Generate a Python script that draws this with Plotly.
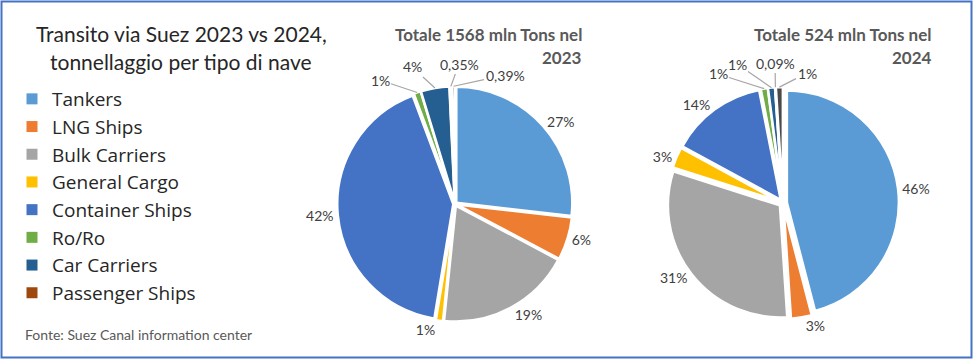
import math
import plotly.graph_objects as go

# ---- data ----
categories = ["Tankers", "LNG Ships", "Bulk Carriers", "General Cargo",
              "Container Ships", "Ro/Ro", "Car Carriers", "Passenger Ships", "Altro"]
legend_categories = categories[:8]
share_2023 = [27, 6, 19, 1, 42, 1, 4, 0.35, 0.39]
share_2024 = [46, 3, 31, 3, 14, 1, 1, 0.09, 1]
colors = ["#5B9BD5", "#ED7D31", "#A5A5A5", "#FFC000", "#4472C4",
          "#70AD47", "#255E91", "#9E480E", "#4A4A4A"]

title_lines = ["Transito via Suez 2023 vs 2024,", "tonnellaggio per tipo di nave"]
sub_2023 = ["Totale 1568 mln Tons nel", "2023"]
sub_2024 = ["Totale 524 mln Tons nel", "2024"]
source = "Fonte: Suez Canal information center"

# ---- layout constants (pixels) ----
W, H = 974, 360
FONT = "Lato"
TXT = "#404040"
SMALL_IDX = [5, 6, 7, 8]          # slices labelled with leader lines at the top
PIES = [
    dict(values=share_2023, cx=455, cy=204, r=116, pull=0.015,
         label_pos=[(380, 80), (412, 67), (459, 64), (505, 75)]),
    dict(values=share_2024, cx=783, cy=203, r=112, pull=0.035,
         label_pos=[(718, 74), (737, 64), (775, 63), (807, 73)]),
]


def px_x(x):
    return x / W


def px_y(y):
    return 1 - y / H


def dom(cx, cy, r, pull):
    half = r * (1 + pull)
    return dict(x=[px_x(cx - half), px_x(cx + half)],
                y=[px_y(cy + half), px_y(cy - half)])


def fmt(v):
    return ("%g" % v).replace(".", ",") + "%"


fig = go.Figure()
ann = []

for p in PIES:
    vals = p["values"]
    tpos = ["none" if i in SMALL_IDX else "outside" for i in range(len(vals))]
    fig.add_trace(go.Pie(
        values=vals, labels=categories, sort=False, direction="clockwise",
        rotation=0, pull=p["pull"], domain=dom(p["cx"], p["cy"], p["r"], p["pull"]),
        textposition=tpos, texttemplate="%{value}%",
        outsidetextfont=dict(family=FONT, size=14, color=TXT),
        marker=dict(colors=colors, line=dict(color="white", width=2.5)),
        showlegend=False, hoverinfo="label+value"))
    total = sum(vals)
    for k, i in enumerate(SMALL_IDX):
        mid = (sum(vals[:i]) + vals[i] / 2) / total * 2 * math.pi
        rr = p["r"] * (1 + p["pull"])
        tx = p["cx"] + rr * math.sin(mid)
        ty = p["cy"] - rr * math.cos(mid)
        lx, ly = p["label_pos"][k]
        ann.append(dict(text=fmt(vals[i]), x=px_x(tx), y=px_y(ty),
                        xref="paper", yref="paper", showarrow=True,
                        ax=lx - tx, ay=ly - ty, arrowhead=0, arrowwidth=1.2,
                        arrowcolor="#A6A6A6", standoff=0,
                        font=dict(family=FONT, size=14, color=TXT)))

# legend entries (only the 8 named categories)
for name, col in zip(legend_categories, colors):
    fig.add_trace(go.Scatter(x=[None], y=[None], mode="markers", name=name,
                             marker=dict(symbol="square", size=11, color=col),
                             showlegend=True, hoverinfo="skip"))


def add_text(text, x, y, xanchor, size, color, family=FONT):
    ann.append(dict(text=text, x=px_x(x), y=px_y(y), xref="paper", yref="paper",
                    xanchor=xanchor, yanchor="middle", showarrow=False,
                    font=dict(family=family, size=size, color=color)))


add_text(title_lines[0], 181, 33, "center", 21, "#262626")
add_text(title_lines[1], 181, 61, "center", 21, "#262626")
for lines, xr in [(sub_2023, 584), (sub_2024, 934)]:
    add_text("<b>" + lines[0] + "</b>", xr, 34, "right", 17, "#595959")
    add_text("<b>" + lines[1] + "</b>", xr, 57, "right", 17, "#595959")
add_text(source, 23, 334, "left", 14, "#595959")

fig.update_layout(
    width=W, height=H,
    margin=dict(l=0, r=0, t=0, b=0),
    paper_bgcolor="white", plot_bgcolor="white",
    separators=",.",
    xaxis=dict(visible=False), yaxis=dict(visible=False),
    legend=dict(x=px_x(12), y=px_y(80), xanchor="left", yanchor="top",
                font=dict(family="Open Sans", size=19, color="#262626"),
                tracegroupgap=0, bgcolor="rgba(0,0,0,0)"),
    annotations=ann,
    shapes=[dict(type="rect", xref="paper", yref="paper",
                 x0=px_x(1.5), x1=px_x(971.5), y0=px_y(357.5), y1=px_y(1.5),
                 line=dict(color="#4472C4", width=2), layer="above")],
)

fig.write_html("out.html", config={"displayModeBar": False},
               post_script="document.body.style.margin='0';"
                           "document.body.style.overflow='hidden';")
